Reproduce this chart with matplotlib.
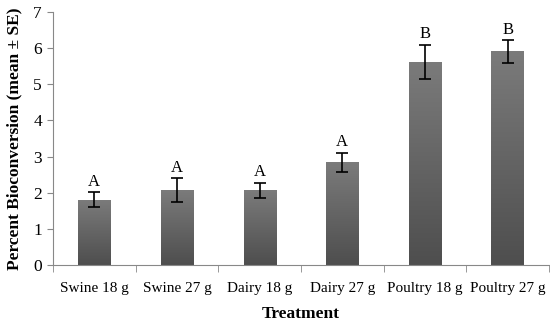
import numpy as np
import matplotlib
matplotlib.use("Agg")
from matplotlib import pyplot as plt

plt.rcParams['font.family'] = ['Liberation Serif', 'DejaVu Serif']

treatments = ['Swine 18 g', 'Swine 27 g', 'Dairy 18 g', 'Dairy 27 g', 'Poultry 18 g', 'Poultry 27 g']
means = [1.81, 2.07, 2.07, 2.84, 5.63, 5.91]
se = [0.21, 0.33, 0.21, 0.27, 0.47, 0.31]
letters = ['A', 'A', 'A', 'A', 'B', 'B']

fig = plt.figure(figsize=(5.5, 3.24), dpi=100)
ax = fig.add_axes([0.0964, 0.182, 0.9016, 0.781])

x = np.arange(len(treatments))
bar_width = 0.39

# gradient fill for bars (lighter at top, darker at bottom)
grad = np.linspace(0, 1, 256).reshape(-1, 1)
cmap = matplotlib.colors.LinearSegmentedColormap.from_list('g', ['#4e4e4e', '#7b7b7b'])
bars = ax.bar(x, means, width=bar_width, color='none', edgecolor='none', zorder=2)
for b in bars:
    x0, y0 = b.get_x(), b.get_y()
    w, h = b.get_width(), b.get_height()
    im = ax.imshow(grad, extent=[x0, x0 + w, y0, y0 + h], origin='lower',
                   cmap=cmap, aspect='auto', zorder=2)
    im.set_clip_path(b)

ax.errorbar(x, means, yerr=se, fmt='none', ecolor='black', elinewidth=1.2,
            capsize=4, capthick=1.2, zorder=3)

for xi, m, s, l in zip(x, means, se, letters):
    ax.text(xi, m + s + 0.06, l, ha='center', va='bottom', fontsize=12)

ax.set_xlim(-0.5, len(treatments) - 0.5)
ax.set_ylim(0, 7)
ax.set_yticks(range(0, 8))
ax.set_xticks(x)
ax.set_xticklabels(treatments, fontsize=11)
ax.set_xticks(np.arange(-0.5, len(treatments)), minor=True)
ax.tick_params(axis='x', which='major', length=0, pad=12)
ax.tick_params(axis='x', which='minor', length=5, color='#888888')
ax.tick_params(axis='y', length=4, color='#888888', labelsize=12.5, pad=4)

for side in ['top', 'right']:
    ax.spines[side].set_visible(False)
for side in ['left', 'bottom']:
    ax.spines[side].set_color('#888888')

ax.set_xlabel('Treatment', fontsize=12.5, fontweight='bold', labelpad=8)
ax.set_ylabel('Percent Bioconversion (mean \u00b1 SE)', fontsize=12.5, fontweight='bold', labelpad=8)

fig.savefig('out.png', dpi=100)
